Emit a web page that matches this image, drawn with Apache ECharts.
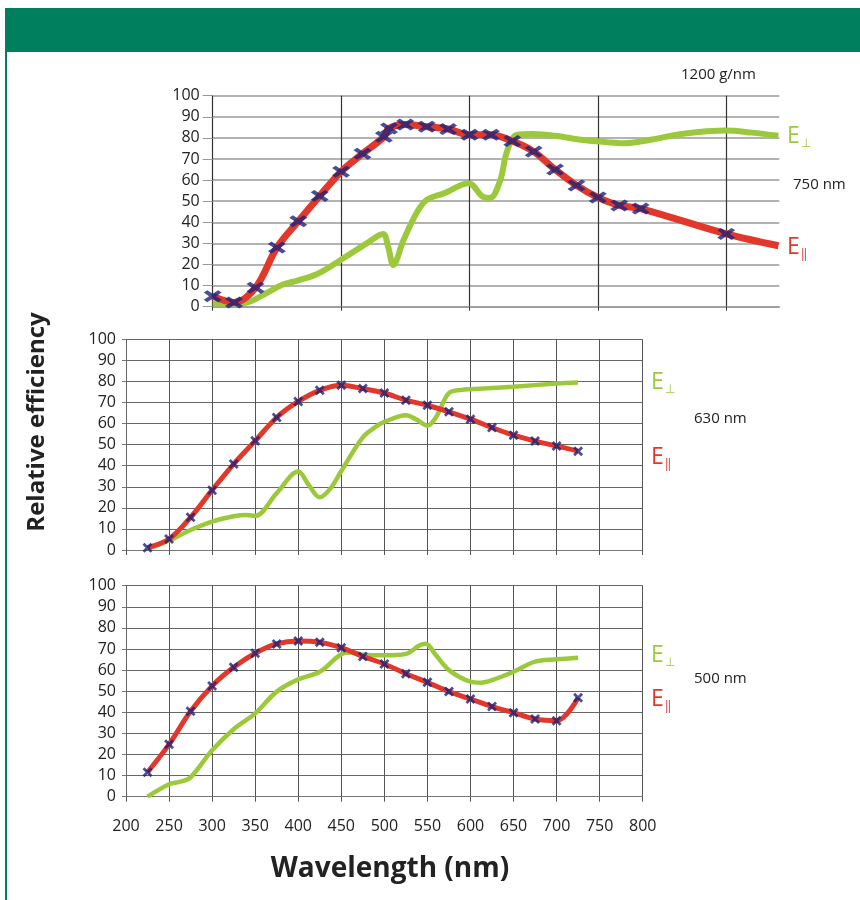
<!DOCTYPE html>
<html>
<head>
<meta charset="utf-8">
<script src="https://cdn.jsdelivr.net/npm/echarts@6/dist/echarts.min.js"></script>
<style>
html,body{margin:0;padding:0;background:#fff;}
#chart{width:860px;height:900px;}
</style>
</head>
<body>
<div id="chart"></div>
<script>
// ---------- DATA ----------
// Top panel (1200 g/nm, blaze 750 nm)
var topParWl  = [300, 325, 350, 375, 400, 425, 450, 475, 500, 506, 525, 550, 575, 600, 625, 650, 675, 700, 725, 750, 775, 800, 900, 961];
var topParVal = [5, 2, 9, 28, 40.5, 52.5, 64, 72.5, 80.5, 84.5, 86.3, 85.3, 84.2, 81.5, 81.5, 78.5, 73.5, 65, 57.5, 51.8, 48, 46.5, 34.5, 28.9];
var topParMarkerCount = 23; // last point is the line end (no marker)
var topPerWl  = [300, 320, 340, 363, 382, 400, 422, 449, 480, 499, 505, 511, 523, 538, 550, 570, 599, 616, 624, 636, 642, 648, 655, 675, 700, 733, 760, 780, 810, 850, 900, 930, 961];
var topPerVal = [1.5, 1.5, 2, 6.5, 10.5, 12.5, 15.5, 22, 30, 34.5, 28.4, 19.8, 31.6, 44.3, 50.6, 53.7, 58.5, 52, 51.5, 60, 71, 78, 81.4, 81.8, 81, 79, 78, 77.5, 79, 82, 83.5, 82.5, 81];
var topGridWl = [300, 450, 600, 750, 900];

// Middle panel (blaze 630 nm)
var midParWl  = [225, 250, 275, 300, 325, 350, 375, 400, 425, 450, 475, 500, 525, 550, 575, 600, 625, 650, 675, 700, 725];
var midParVal = [1.1, 5.2, 15.5, 28.4, 40.8, 51.8, 62.9, 70.5, 75.8, 78.2, 76.6, 74.5, 71.1, 68.7, 65.6, 62.1, 58.1, 54.5, 51.7, 49.4, 46.9];
var midPerWl  = [225, 250, 275, 300, 325, 340, 350, 375, 400, 412, 425, 437, 450, 475, 490, 500, 525, 537, 550, 560, 575, 590, 600, 650, 700, 725];
var midPerVal = [0.5, 4.5, 9.5, 13.5, 16, 16.6, 16.2, 27, 37.2, 31, 25, 29, 37.5, 53.5, 58.5, 60.8, 64, 62, 59, 63, 74.5, 76, 76.3, 77.5, 79, 79.5];

// Bottom panel (blaze 500 nm)
var botParWl  = [225, 250, 275, 300, 325, 350, 375, 400, 425, 450, 475, 500, 525, 550, 575, 600, 625, 650, 675, 700, 725];
var botParVal = [11.6, 24.8, 40.5, 52.5, 61.3, 68, 72.4, 73.8, 73.2, 70.6, 66.5, 62.9, 58.3, 54.2, 49.8, 46.3, 42.7, 39.8, 36.8, 36, 46.9];
var botPerWl  = [225, 250, 262, 275, 300, 325, 350, 375, 400, 425, 450, 462, 475, 500, 525, 540, 548, 560, 575, 600, 612, 625, 650, 675, 700, 725];
var botPerVal = [0, 5.9, 7, 9.2, 22, 32, 39.5, 49.8, 55.6, 59.2, 67.5, 68.3, 67.3, 67, 67.7, 71.5, 72.5, 67, 60, 54.5, 54, 55.2, 59.2, 64, 65.1, 65.9];

var yTicks = [0, 10, 20, 30, 40, 50, 60, 70, 80, 90, 100];
var xTicksBottom = [200, 250, 300, 350, 400, 450, 500, 550, 600, 650, 700, 750, 800];

var panelLabels = ['750 nm', '630 nm', '500 nm'];
var gratingLabel = '1200 g/nm';
var xTitle = 'Wavelength (nm)';
var yTitle = 'Relative efficiency';

// ---------- BUILD ----------
function zip(a, b, n) {
  var out = [];
  var len = n == null ? a.length : n;
  for (var i = 0; i < len; i++) out.push([a[i], b[i]]);
  return out;
}

var RED = '#e2382c';
var GREEN = '#9cc93c';
var NAVY = '#1b237a';
var FONT = '"Open Sans", "Noto Sans", sans-serif';
var XPATH = 'path://M0,2 L2,0 L5,3 L8,0 L10,2 L7,5 L10,8 L8,10 L5,7 L2,10 L0,8 L3,5 Z';

var chart = echarts.init(document.getElementById('chart'), null, {renderer: 'canvas'});

function yAxisCfg(gi, tickLen, tickColor, lineColor, splitColor, splitW, margin) {
  return {
    gridIndex: gi, type: 'value', min: 0, max: 100, interval: 10,
    axisLine: {show: true, lineStyle: {color: lineColor, width: 1}},
    axisTick: {show: true, length: tickLen, lineStyle: {color: tickColor, width: 1}},
    axisLabel: {show: true, margin: margin, color: '#222', fontSize: 16, fontFamily: FONT, customValues: yTicks},
    splitLine: {show: true, lineStyle: {color: splitColor, width: splitW}}
  };
}

var option = {
  animation: false,
  backgroundColor: '#fff',
  grid: [
    {left: 212.7, top: 95.7, width: 566.6, height: 211, containLabel: false},
    {left: 126, top: 339.3, width: 516.7, height: 210.7, containLabel: false},
    {left: 126, top: 585.7, width: 516.7, height: 211, containLabel: false}
  ],
  xAxis: [
    {
      gridIndex: 0, type: 'value', min: 300, max: 962, interval: 150,
      axisLine: {show: true, lineStyle: {color: '#999', width: 1.5}},
      axisTick: {show: true, length: 4, customValues: topGridWl, lineStyle: {color: '#333'}},
      axisLabel: {show: false},
      splitLine: {show: true, showMinLine: true, showMaxLine: true, lineStyle: {color: '#333', width: 1.2}}
    },
    {
      gridIndex: 1, type: 'value', min: 200, max: 800, interval: 50,
      axisLine: {show: true, lineStyle: {color: '#777', width: 1}},
      axisTick: {show: true, length: 5, lineStyle: {color: '#555'}},
      axisLabel: {show: false},
      splitLine: {show: true, lineStyle: {color: '#555', width: 1}}
    },
    {
      gridIndex: 2, type: 'value', min: 200, max: 800, interval: 50,
      axisLine: {show: true, lineStyle: {color: '#777', width: 1}},
      axisTick: {show: true, length: 5, lineStyle: {color: '#555'}},
      axisLabel: {show: true, margin: 22, color: '#222', fontSize: 16, fontFamily: FONT,
        customValues: xTicksBottom},
      splitLine: {show: true, lineStyle: {color: '#555', width: 1}}
    }
  ],
  yAxis: [
    yAxisCfg(0, 10, '#999', '#333', '#9a9a9a', 1.5, 13),
    yAxisCfg(1, 4, '#777', '#666', '#666', 1, 10),
    yAxisCfg(2, 4, '#777', '#666', '#666', 1, 10)
  ],
  series: [
    // top
    {type: 'line', xAxisIndex: 0, yAxisIndex: 0, data: zip(topPerWl, topPerVal), smooth: 0.35,
      showSymbol: false, lineStyle: {color: GREEN, width: 6}, z: 3},
    {type: 'line', xAxisIndex: 0, yAxisIndex: 0, data: zip(topParWl, topParVal), smooth: 0.35,
      showSymbol: false, lineStyle: {color: RED, width: 7}, z: 4},
    {type: 'scatter', xAxisIndex: 0, yAxisIndex: 0, data: zip(topParWl, topParVal, topParMarkerCount),
      symbol: XPATH, symbolSize: [18, 12], itemStyle: {color: NAVY}, z: 5},
    // middle
    {type: 'line', xAxisIndex: 1, yAxisIndex: 1, data: zip(midPerWl, midPerVal), smooth: 0.35,
      showSymbol: false, lineStyle: {color: GREEN, width: 4.5}, z: 3},
    {type: 'line', xAxisIndex: 1, yAxisIndex: 1, data: zip(midParWl, midParVal), smooth: 0.35,
      showSymbol: false, lineStyle: {color: RED, width: 5}, z: 4},
    {type: 'scatter', xAxisIndex: 1, yAxisIndex: 1, data: zip(midParWl, midParVal),
      symbol: XPATH, symbolSize: [10, 10], itemStyle: {color: NAVY}, z: 5},
    // bottom
    {type: 'line', xAxisIndex: 2, yAxisIndex: 2, data: zip(botPerWl, botPerVal), smooth: 0.35,
      showSymbol: false, lineStyle: {color: GREEN, width: 4.5}, z: 3},
    {type: 'line', xAxisIndex: 2, yAxisIndex: 2, data: zip(botParWl, botParVal), smooth: 0.35,
      showSymbol: false, lineStyle: {color: RED, width: 5}, z: 4},
    {type: 'scatter', xAxisIndex: 2, yAxisIndex: 2, data: zip(botParWl, botParVal),
      symbol: XPATH, symbolSize: [10, 10], itemStyle: {color: NAVY}, z: 5}
  ],
  graphic: []
};

var g = option.graphic;
// header band and left border
g.push({type: 'rect', shape: {x: 5, y: 8, width: 855, height: 44}, style: {fill: '#007f5f'}, z: 0});
g.push({type: 'rect', shape: {x: 5, y: 52, width: 2, height: 848}, style: {fill: '#007f5f'}, z: 0});

function eLabel(x, y, color, sub) {
  g.push({
    type: 'text', x: x, y: y, z: 10,
    style: {
      text: '{e|E}{s|' + sub + '}',
      rich: {
        e: {fontSize: 23, fontFamily: FONT, fill: color},
        s: {fontSize: 12, fontFamily: FONT, fill: color, padding: [15, 0, 0, 1]}
      },
      fill: color, verticalAlign: 'top'
    }
  });
}
// top labels
eLabel(787, 123, GREEN, '\u22A5');
eLabel(787, 234, RED, '\u2016');
// middle
eLabel(651, 369, GREEN, '\u22A5');
eLabel(651, 444, RED, '\u2016');
// bottom
eLabel(651, 642, GREEN, '\u22A5');
eLabel(651, 686, RED, '\u2016');

function plainText(x, y, txt, size, align) {
  g.push({type: 'text', x: x, y: y, z: 10,
    style: {text: txt, fontSize: size, fontFamily: FONT, fill: '#222', align: align || 'left', verticalAlign: 'middle'}});
}
plainText(681, 75, gratingLabel, 15);
plainText(793, 185, panelLabels[0], 15);
plainText(694, 419, panelLabels[1], 15);
plainText(694, 679, panelLabels[2], 15);

g.push({type: 'text', x: 390, y: 869, z: 10,
  style: {text: xTitle, fontSize: 28, fontWeight: 'bold', fontFamily: FONT, fill: '#222', align: 'center', verticalAlign: 'middle'}});
g.push({type: 'text', x: 37, y: 422, rotation: Math.PI / 2, z: 10,
  style: {text: yTitle, fontSize: 24, fontWeight: 'bold', fontFamily: FONT, fill: '#222', align: 'center', verticalAlign: 'middle'}});

chart.setOption(option);
</script>
</body>
</html>
